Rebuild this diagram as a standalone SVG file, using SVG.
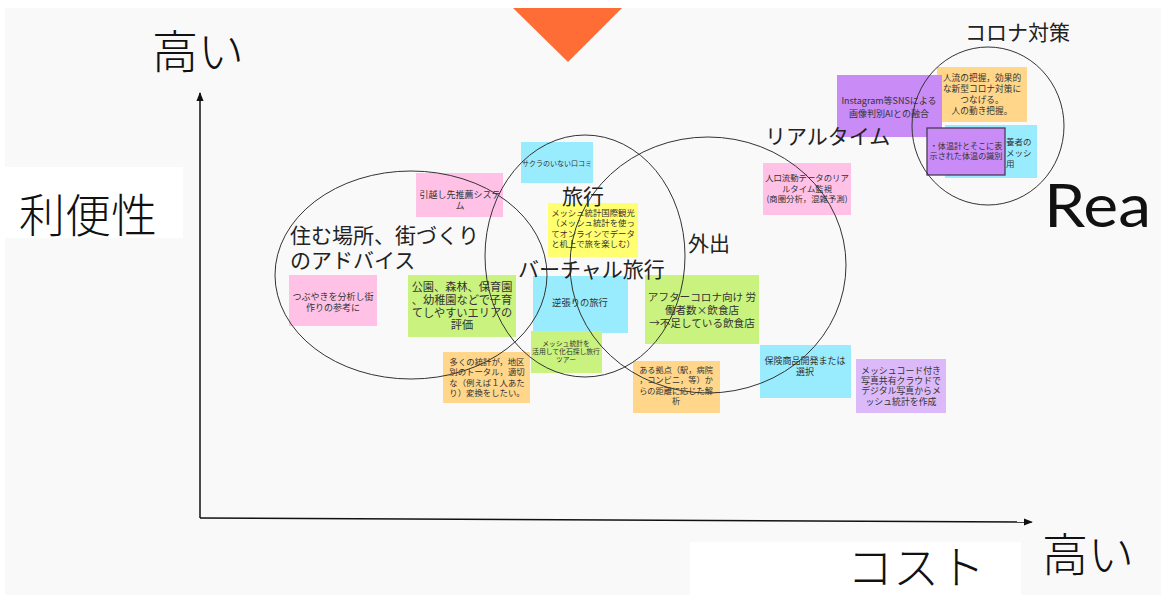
<svg xmlns="http://www.w3.org/2000/svg" width="1161" height="595" viewBox="0 0 1161 595">
<defs>
<style>
.jp{font-family:"Noto Sans CJK JP","Noto Sans",sans-serif;}
.big{font-family:"Noto Sans CJK JP","Noto Sans",sans-serif;font-size:46px;fill:#111;font-weight:300;}
.lab{font-family:"Noto Sans CJK JP","Noto Sans",sans-serif;font-size:21px;fill:#222;}
.n{font-family:"Noto Sans CJK JP","Noto Sans",sans-serif;fill:#333;text-anchor:middle;}
.ell{fill:none;stroke:#333;stroke-width:1;}
.ax{stroke:#111;stroke-width:1.5;fill:none;}
.pink{fill:#ffc2e6;}
.cyan{fill:#99ecfd;}
.green{fill:#c9f27f;}
.orange{fill:#ffd68a;}
.yellow{fill:#ffff70;}
.purple{fill:#c98bf6;}
.lav{fill:#dcbaf9;}
</style>
<marker id="arr" viewBox="0 0 10 10" refX="9" refY="5" markerWidth="6" markerHeight="6" orient="auto-start-reverse">
<path d="M0,1 L10,5 L0,9 z" fill="#111"/>
</marker>
</defs>
<rect x="0" y="0" width="1161" height="595" fill="#ffffff"/>
<rect x="5" y="8" width="1156" height="587" fill="#f9f9f9"/>
<polygon points="513,8 622,8 568,62" fill="#ff6d37"/>
<rect x="5" y="167" width="178" height="71" fill="#ffffff"/>
<rect x="690" y="542" width="331" height="53" fill="#ffffff"/>

<g id="connectors">
<line class="ax" x1="200" y1="518" x2="200" y2="93" marker-end="url(#arr)"/>
<line class="ax" x1="200" y1="518" x2="1032" y2="522" marker-end="url(#arr)"/>
</g>

<g id="note-kuchikomi"><rect class="cyan" x="521" y="142" width="72" height="41"/><text class="n" x="557" y="165.5" font-size="7">サクラのいない口コミ</text></g>
<g id="note-hikkoshi"><rect class="pink" x="416" y="173" width="87" height="44"/><text class="n" x="460" y="198" font-size="9"><tspan x="460">引越し先推薦システ</tspan><tspan x="460" dy="10.5">ム</tspan></text></g>
<g id="note-tsubuyaki"><rect class="pink" x="289" y="275" width="88" height="51"/><text class="n" x="333" y="300" font-size="9"><tspan x="333">つぶやきを分析し街</tspan><tspan x="333" dy="10.5">作りの参考に</tspan></text></g>
<g id="note-kouen"><rect class="green" x="408" y="275" width="108" height="62"/><text class="n" x="462" y="291" font-size="11.2"><tspan x="462">公園、森林、保育園</tspan><tspan x="462" dy="12.8">、幼稚園などで子育</tspan><tspan x="462" dy="12.8">てしやすいエリアの</tspan><tspan x="462" dy="12.8">評価</tspan></text></g>
<g id="note-kokusai"><rect class="yellow" x="548" y="203" width="90" height="54"/><text class="n" x="593" y="216" font-size="8.4"><tspan x="593">メッシュ統計国際観光</tspan><tspan x="593" dy="10.3">（メッシュ統計を使っ</tspan><tspan x="593" dy="10.3">てオンラインでデータ</tspan><tspan x="593" dy="10.3">と机上で旅を楽しむ）</tspan></text></g>
<g id="note-gyakubari"><rect class="cyan" x="533" y="276" width="95" height="57"/><text class="n" x="580" y="306" font-size="9.3">逆張りの旅行</text></g>
<g id="note-kaseki"><rect class="green" x="531" y="331" width="71" height="42"/><text class="n" x="566" y="345.5" font-size="6.8"><tspan x="566">メッシュ統計を</tspan><tspan x="566" dy="8">活用して化石探し旅行</tspan><tspan x="566" dy="8">ツアー</tspan></text></g>
<g id="note-toukei"><rect class="orange" x="443" y="352" width="87" height="51"/><text class="n" x="487" y="365" font-size="8.4"><tspan x="487">多くの統計が，地区</tspan><tspan x="487" dy="10.4">別のトータル，適切</tspan><tspan x="487" dy="10.4">な（例えば１人あた</tspan><tspan x="487" dy="10.4">り）変換をしたい。</tspan></text></g>
<g id="note-after"><rect class="green" x="645" y="275" width="114" height="69"/><text class="n" x="702" y="301" font-size="10.6"><tspan x="702">アフターコロナ向け 労</tspan><tspan x="702" dy="13">働者数×飲食店</tspan><tspan x="702" dy="13">→不足している飲食店</tspan></text></g>
<g id="note-kyoten"><rect class="orange" x="633" y="361" width="87" height="52"/><text class="n" x="676" y="373" font-size="8.2"><tspan x="676">ある拠点（駅，病院</tspan><tspan x="676" dy="10.4">，コンビニ，等）か</tspan><tspan x="676" dy="10.4">らの距離に応じた解</tspan><tspan x="676" dy="10.4">析</tspan></text></g>
<g id="note-jinkou"><rect class="pink" x="763" y="163" width="88" height="52"/><text class="n" x="807" y="181" font-size="8.4"><tspan x="807">人口流動データのリア</tspan><tspan x="807" dy="10.5">ルタイム監視</tspan><tspan x="807" dy="10.5">(商圏分析，混雑予測)</tspan></text></g>
<g id="note-hoken"><rect class="cyan" x="760" y="345" width="91" height="53"/><text class="n" x="805" y="364" font-size="9"><tspan x="805">保険商品開発または</tspan><tspan x="805" dy="11">選択</tspan></text></g>
<g id="note-photo"><rect class="lav" x="856" y="359" width="90" height="54"/><text class="n" x="901" y="373.5" font-size="8.9"><tspan x="901">メッシュコード付き</tspan><tspan x="901" dy="10.4">写真共有クラウドで</tspan><tspan x="901" dy="10.4">デジタル写真からメ</tspan><tspan x="901" dy="10.4">ッシュ統計を作成</tspan></text></g>
<g id="note-jinryu"><rect class="orange" x="937" y="67" width="90" height="55"/><text class="n" x="982" y="80.5" font-size="8.7"><tspan x="982">人流の把握，効果的</tspan><tspan x="982" dy="11">な新型コロナ対策に</tspan><tspan x="982" dy="11">つなげる。</tspan><tspan x="982" dy="11">人の動き把握。</tspan></text></g>
<g id="note-instagram"><rect class="purple" x="837" y="75" width="105" height="62"/><text class="n" x="889" y="104" font-size="9"><tspan x="889">Instagram等SNSによる</tspan><tspan x="889" dy="12.5">画像判別AIとの融合</tspan></text></g>
<g id="note-ryouyou"><rect class="cyan" x="945" y="125" width="92" height="53"/><text class="jp" x="1006" y="145" font-size="8.5" fill="#333"><tspan x="1006">養者の</tspan><tspan x="1006" dy="11">メッシ</tspan><tspan x="1006" dy="11">用</tspan></text></g>
<g id="note-taion"><rect class="purple" x="927" y="128" width="78" height="47" stroke="#4b3b57" stroke-width="1.3"/><text class="n" x="966" y="149" font-size="8.1"><tspan x="966">・体温計とそこに表</tspan><tspan x="966" dy="10">示された体温の識別</tspan></text></g>

<g id="groups">
<ellipse id="grp-sumu" class="ell" cx="411" cy="275" rx="136" ry="104"/>
<ellipse id="grp-ryokou" class="ell" cx="585" cy="256" rx="100" ry="121"/>
<ellipse id="grp-gaishutsu" class="ell" cx="708" cy="265" rx="138" ry="128"/>
<ellipse id="grp-corona" class="ell" cx="988" cy="126" rx="76" ry="79"/>
</g>

<g id="labels">
<text class="big" x="152" y="68">高い</text>
<text class="big" x="19" y="232">利便性</text>
<text class="big" x="847" y="584">コスト</text>
<text class="big" x="1042" y="571">高い</text>
<text class="lab" x="965" y="40">コロナ対策</text>
<text class="lab" x="765" y="144">リアルタイム</text>
<text class="lab" x="290" y="243">住む場所、街づくり</text>
<text class="lab" x="290" y="268">のアドバイス</text>
<text class="lab" x="562" y="204">旅行</text>
<text class="lab" x="518" y="277">バーチャル旅行</text>
<text class="lab" x="688" y="251">外出</text>
<text x="1044" y="227" font-family="Lato,Inter,sans-serif" font-size="60" fill="#111" textLength="107" lengthAdjust="spacingAndGlyphs">Rea</text>
</g>
</svg>
